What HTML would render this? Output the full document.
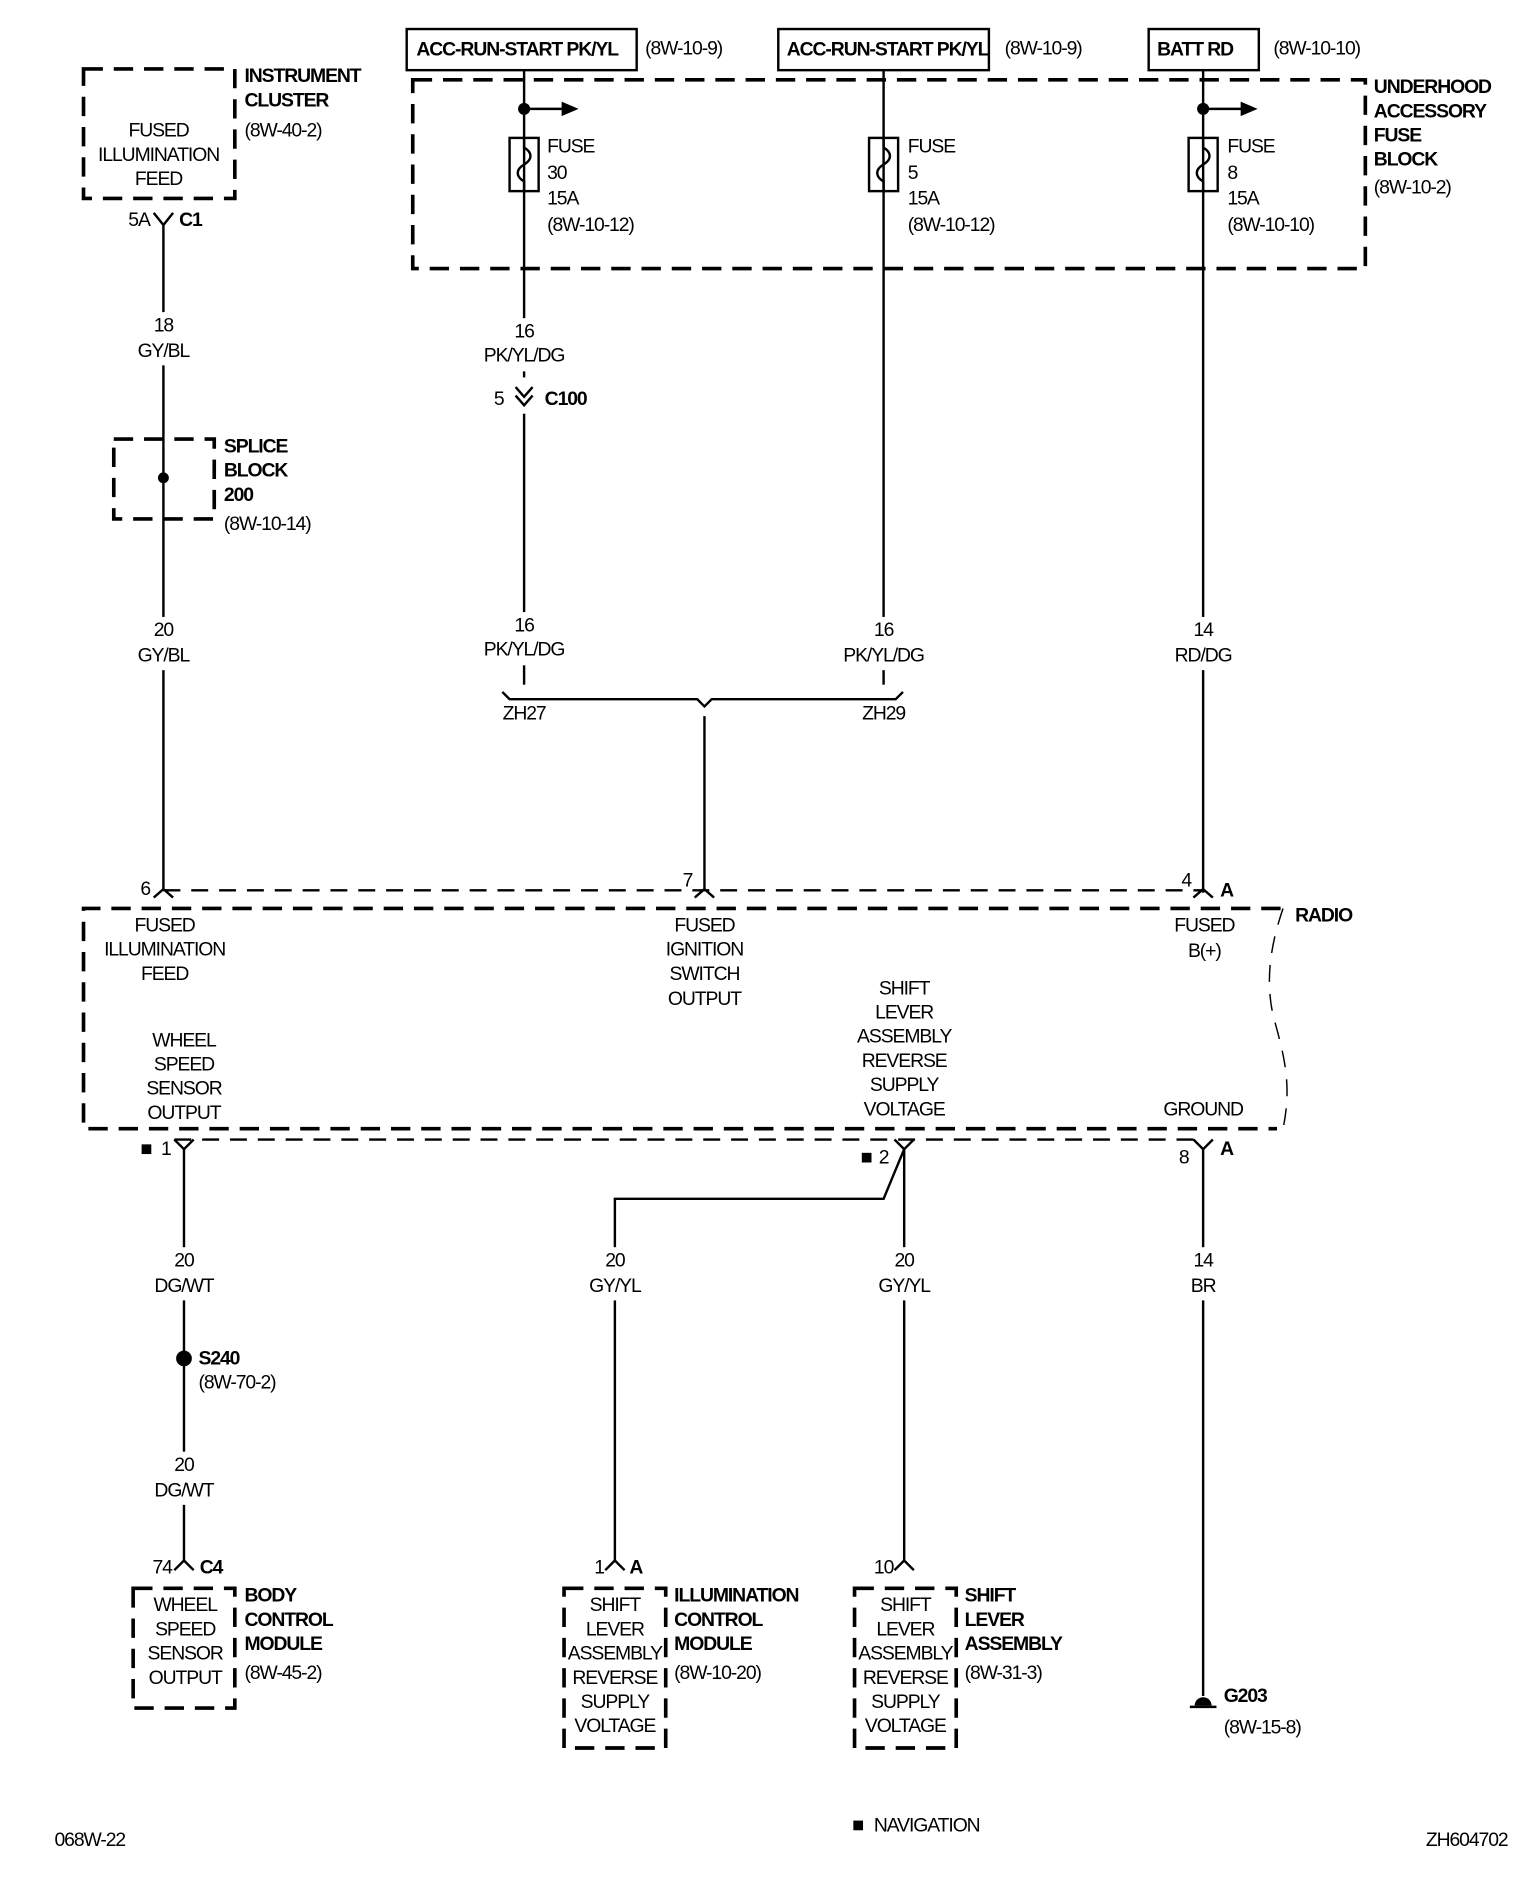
<!DOCTYPE html>
<html><head><meta charset="utf-8"><style>
html,body{margin:0;padding:0;background:#fff}
svg{display:block}
text{font-family:"Liberation Sans",sans-serif;font-size:16px;fill:#000;letter-spacing:-0.9px;dominant-baseline:central}
.c{text-anchor:middle}
.b{font-weight:bold}
.w{stroke:#000;stroke-width:2;fill:none}
.d{stroke:#000;stroke-width:3;fill:none;stroke-dasharray:16 9}
.dt{stroke:#000;stroke-width:2;fill:none;stroke-dasharray:14 9}
</style></head><body>
<svg width="1536" height="1898" viewBox="0 0 1269 1569" preserveAspectRatio="none" xmlns="http://www.w3.org/2000/svg">
<!-- Instrument cluster -->
<rect x="69" y="57" width="125" height="107" class="d"/>
<text class="c" x="131" y="108">FUSED</text>
<text class="c" x="131" y="128">ILLUMINATION</text>
<text class="c" x="131" y="148">FEED</text>
<text class="b" x="202" y="63">INSTRUMENT</text>
<text class="b" x="202" y="83">CLUSTER</text>
<text x="202" y="108">(8W-40-2)</text>
<path class="w" d="M127 176 L135 186 L143 176 M135 186 V736"/>
<text x="106" y="182">5A</text>
<text class="b" x="148" y="182">C1</text>
<rect x="94" y="363" width="83" height="66" class="d"/>
<circle cx="135" cy="395" r="4.5"/>
<text class="b" x="185" y="369">SPLICE</text>
<text class="b" x="185" y="389">BLOCK</text>
<text class="b" x="185" y="409">200</text>
<text x="185" y="433">(8W-10-14)</text>

<!-- Top boxes -->
<rect x="336" y="24" width="190" height="34" class="w"/>
<text class="b" x="344" y="41">ACC-RUN-START PK/YL</text>
<text x="533" y="40">(8W-10-9)</text>
<rect x="643" y="24" width="174" height="34" class="w"/>
<text class="b" x="650" y="41">ACC-RUN-START PK/YL</text>
<text x="830" y="40">(8W-10-9)</text>
<rect x="949" y="24" width="91" height="34" class="w"/>
<text class="b" x="956" y="41">BATT RD</text>
<text x="1052" y="40">(8W-10-10)</text>

<rect x="341" y="66" width="787" height="156" class="d"/>
<text class="b" x="1135" y="72">UNDERHOOD</text>
<text class="b" x="1135" y="92">ACCESSORY</text>
<text class="b" x="1135" y="112">FUSE</text>
<text class="b" x="1135" y="132">BLOCK</text>
<text x="1135" y="155">(8W-10-2)</text>

<!-- fuse 30 -->
<path class="w" d="M433 58 V572"/>
<circle cx="433" cy="90" r="5"/>
<path class="w" d="M433 90 H466"/><path d="M464 84 L478 90 L464 96Z"/>
<rect x="421" y="114" width="24" height="44" class="w" fill="#fff"/>
<path class="w" d="M433 114 V122 C440 126 440 132 433 136 C426 140 426 146 433 150 V158"/>
<text x="452" y="121">FUSE</text><text x="452" y="143">30</text><text x="452" y="164">15A</text><text x="452" y="186">(8W-10-12)</text>
<!-- fuse 5 -->
<path class="w" d="M730 58 V572"/>
<rect x="718" y="114" width="24" height="44" class="w" fill="#fff"/>
<path class="w" d="M730 114 V122 C737 126 737 132 730 136 C723 140 723 146 730 150 V158"/>
<text x="750" y="121">FUSE</text><text x="750" y="143">5</text><text x="750" y="164">15A</text><text x="750" y="186">(8W-10-12)</text>
<!-- fuse 8 -->
<path class="w" d="M994 58 V738"/>
<circle cx="994" cy="90" r="5"/>
<path class="w" d="M994 90 H1027"/><path d="M1025 84 L1039 90 L1025 96Z"/>
<rect x="982" y="114" width="24" height="44" class="w" fill="#fff"/>
<path class="w" d="M994 114 V122 C1001 126 1001 132 994 136 C987 140 987 146 994 150 V158"/>
<text x="1014" y="121">FUSE</text><text x="1014" y="143">8</text><text x="1014" y="164">15A</text><text x="1014" y="186">(8W-10-10)</text>

<rect x="425" y="312" width="16" height="30" fill="#fff"/>
<path class="w" d="M426 320 L433 328 L440 320 M426 327 L433 335 L440 327"/>
<text x="408" y="330">5</text>
<text class="b" x="450" y="330">C100</text>
<rect x="426" y="566" width="14" height="10" fill="#fff"/>
<rect x="723" y="566" width="14" height="10" fill="#fff"/>
<path class="w" d="M415 572 L421 578 H576 L582 584 L588 578 H740 L746 572"/>
<text class="c" x="433" y="590">ZH27</text>
<text class="c" x="730" y="590">ZH29</text>
<path class="w" d="M582 592 V736"/>

<!-- Radio -->
<path class="dt" d="M135 736 H994"/>
<path class="w" d="M127 742 L135 735 L143 742 M574 742 L582 735 L590 742 M986 742 L994 735 L1002 742"/>
<text x="116" y="735">6</text>
<text x="564" y="728">7</text>
<text x="976" y="728">4</text>
<text class="b" x="1008" y="736">A</text>
<path class="d" d="M1058 751 H69 V933 H1055"/>
<path d="M1060 751 C1050 780 1045 810 1052 840 C1060 870 1068 895 1060 933" stroke="#000" stroke-width="1.2" fill="none" stroke-dasharray="14 10"/>
<text class="b" x="1070" y="757">RADIO</text>
<text class="c" x="136" y="765">FUSED</text>
<text class="c" x="136" y="785">ILLUMINATION</text>
<text class="c" x="136" y="805">FEED</text>
<text class="c" x="582" y="765">FUSED</text>
<text class="c" x="582" y="785">IGNITION</text>
<text class="c" x="582" y="805">SWITCH</text>
<text class="c" x="582" y="826">OUTPUT</text>
<text class="c" x="995" y="765">FUSED</text>
<text class="c" x="995" y="786">B(+)</text>
<text class="c" x="747" y="817">SHIFT</text>
<text class="c" x="747" y="837">LEVER</text>
<text class="c" x="747" y="857">ASSEMBLY</text>
<text class="c" x="747" y="877">REVERSE</text>
<text class="c" x="747" y="897">SUPPLY</text>
<text class="c" x="747" y="917">VOLTAGE</text>
<text class="c" x="152" y="860">WHEEL</text>
<text class="c" x="152" y="880">SPEED</text>
<text class="c" x="152" y="900">SENSOR</text>
<text class="c" x="152" y="920">OUTPUT</text>
<text class="c" x="994" y="917">GROUND</text>

<path class="dt" d="M144 942 H986"/>
<path class="w" d="M144 942 L152 950 L160 942 M739 942 L747 950 L755 942 M986 942 L994 950 L1002 942"/>
<rect x="117" y="946" width="8" height="8" fill="#000"/>
<text x="133" y="950">1</text>
<rect x="712" y="953" width="8" height="8" fill="#000"/>
<text x="726" y="957">2</text>
<text x="974" y="957">8</text>
<text class="b" x="1008" y="950">A</text>

<path class="w" d="M152 950 V1290"/>
<path class="w" d="M747 950 V1290"/>
<path class="w" d="M747 950 L730 991 H508 V1290"/>
<path class="w" d="M994 950 V1402"/>

<circle cx="152" cy="1123" r="6.5"/>
<text class="b" x="164" y="1123">S240</text>
<text x="164" y="1143">(8W-70-2)</text>

<!-- wire labels with gaps -->
<g fill="#fff">
<rect x="105" y="258" width="60" height="44"/>
<rect x="105" y="510" width="60" height="44"/>
<rect x="393" y="263" width="80" height="44"/>
<rect x="393" y="506" width="80" height="44"/>
<rect x="690" y="510" width="80" height="44"/>
<rect x="964" y="510" width="60" height="44"/>
<rect x="122" y="1031" width="60" height="44"/>
<rect x="122" y="1200" width="60" height="44"/>
<rect x="478" y="1031" width="60" height="44"/>
<rect x="717" y="1031" width="60" height="44"/>
<rect x="964" y="1031" width="60" height="44"/>
</g>
<text class="c" x="135" y="269">18</text><text class="c" x="135" y="290">GY/BL</text>
<text class="c" x="135" y="521">20</text><text class="c" x="135" y="542">GY/BL</text>
<text class="c" x="433" y="274">16</text><text class="c" x="433" y="294">PK/YL/DG</text>
<text class="c" x="433" y="517">16</text><text class="c" x="433" y="537">PK/YL/DG</text>
<text class="c" x="730" y="521">16</text><text class="c" x="730" y="542">PK/YL/DG</text>
<text class="c" x="994" y="521">14</text><text class="c" x="994" y="542">RD/DG</text>
<text class="c" x="152" y="1042">20</text><text class="c" x="152" y="1063">DG/WT</text>
<text class="c" x="152" y="1211">20</text><text class="c" x="152" y="1232">DG/WT</text>
<text class="c" x="508" y="1042">20</text><text class="c" x="508" y="1063">GY/YL</text>
<text class="c" x="747" y="1042">20</text><text class="c" x="747" y="1063">GY/YL</text>
<text class="c" x="994" y="1042">14</text><text class="c" x="994" y="1063">BR</text>

<path class="w" d="M144 1298 L152 1290 L160 1298 M500 1298 L508 1290 L516 1298 M739 1298 L747 1290 L755 1298"/>
<text x="126" y="1296">74</text><text class="b" x="165" y="1296">C4</text>
<text x="491" y="1296">1</text><text class="b" x="520" y="1296">A</text>
<text x="722" y="1296">10</text>

<rect x="110" y="1313" width="84" height="99" class="d"/>
<text class="c" x="153" y="1327">WHEEL</text><text class="c" x="153" y="1347">SPEED</text>
<text class="c" x="153" y="1367">SENSOR</text><text class="c" x="153" y="1387">OUTPUT</text>
<text class="b" x="202" y="1319">BODY</text><text class="b" x="202" y="1339">CONTROL</text>
<text class="b" x="202" y="1359">MODULE</text><text x="202" y="1383">(8W-45-2)</text>

<rect x="466" y="1313" width="84" height="132" class="d"/>
<text class="c" x="508" y="1327">SHIFT</text><text class="c" x="508" y="1347">LEVER</text>
<text class="c" x="508" y="1367">ASSEMBLY</text><text class="c" x="508" y="1387">REVERSE</text>
<text class="c" x="508" y="1407">SUPPLY</text><text class="c" x="508" y="1427">VOLTAGE</text>
<text class="b" x="557" y="1319">ILLUMINATION</text><text class="b" x="557" y="1339">CONTROL</text>
<text class="b" x="557" y="1359">MODULE</text><text x="557" y="1383">(8W-10-20)</text>

<rect x="706" y="1313" width="84" height="132" class="d"/>
<text class="c" x="748" y="1327">SHIFT</text><text class="c" x="748" y="1347">LEVER</text>
<text class="c" x="748" y="1367">ASSEMBLY</text><text class="c" x="748" y="1387">REVERSE</text>
<text class="c" x="748" y="1407">SUPPLY</text><text class="c" x="748" y="1427">VOLTAGE</text>
<text class="b" x="797" y="1319">SHIFT</text><text class="b" x="797" y="1339">LEVER</text>
<text class="b" x="797" y="1359">ASSEMBLY</text><text x="797" y="1383">(8W-31-3)</text>

<path d="M987 1410 A7 7 0 0 1 1001 1410 Z"/>
<path class="w" d="M983 1411 H1005"/>
<text class="b" x="1011" y="1402">G203</text>
<text x="1011" y="1428">(8W-15-8)</text>

<text x="45" y="1521">068W-22</text>
<rect x="705" y="1505" width="8" height="8" fill="#000"/>
<text x="722" y="1509">NAVIGATION</text>
<text x="1178" y="1521">ZH604702</text>
</svg>
</body></html>
